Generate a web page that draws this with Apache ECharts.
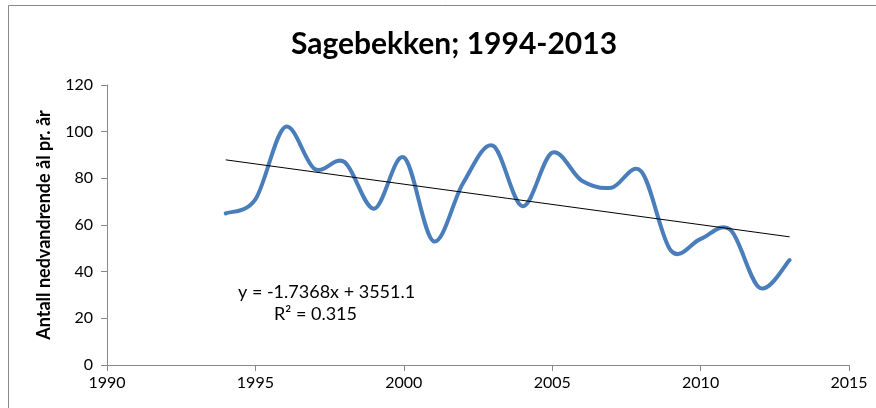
<!DOCTYPE html>
<html>
<head>
<meta charset="utf-8">
<script src="https://cdn.jsdelivr.net/npm/echarts@6/dist/echarts.min.js"></script>
<style>
  html, body { margin: 0; padding: 0; background: #fff; }
  #chart { width: 876px; height: 408px; }
</style>
</head>
<body>
<div id="chart"></div>
<script>
// yearly counts
const years = [1994, 1995, 1996, 1997, 1998, 1999, 2000, 2001, 2002, 2003,
  2004, 2005, 2006, 2007, 2008, 2009, 2010, 2011, 2012, 2013]
const counts = [65, 71, 102, 84, 87, 67, 89, 53, 78, 94,
  68, 91, 79, 76, 83, 49, 54, 58, 33, 45]

// linear trend as printed on the chart
const slope = -1.7368
const intercept = 3551.1
const trendYears = [1994, 2013]

const xTicks = [1990, 2015, 5]
const yTicks = [0, 120, 20]

const font = 'Lato, "Open Sans", sans-serif'

// spreadsheet-style smoothed line: bezier through the points, tangents from the neighbours
function smoothPath(params, api) {
  const pts = years.map((y, i) => api.coord([y, counts[i]]))
  const n = pts.length
  let d = 'M' + pts[0][0] + ' ' + pts[0][1]
  for (let i = 0; i < n - 1; i++) {
    const p0 = pts[Math.max(i - 1, 0)]
    const p1 = pts[i]
    const p2 = pts[i + 1]
    const p3 = pts[Math.min(i + 2, n - 1)]
    const c1x = p1[0] + (p2[0] - p0[0]) / 6
    const c1y = p1[1] + (p2[1] - p0[1]) / 6
    const c2x = p2[0] - (p3[0] - p1[0]) / 6
    const c2y = p2[1] - (p3[1] - p1[1]) / 6
    d += ' C' + c1x + ' ' + c1y + ' ' + c2x + ' ' + c2y + ' ' + p2[0] + ' ' + p2[1]
  }
  return {
    type: 'path',
    shape: { pathData: d },
    style: { fill: 'none', stroke: '#4a7ebb', lineWidth: 4, lineCap: 'round', lineJoin: 'round' }
  }
}

const chart = echarts.init(document.getElementById('chart'))

chart.setOption({
  animation: false,
  title: {
    text: 'Sagebekken; 1994-2013',
    left: 449,
    top: 24,
    textAlign: 'center',
    textStyle: {
      fontFamily: font,
      fontSize: 30,
      fontWeight: 'bold',
      color: '#000'
    }
  },
  grid: {
    left: 107,
    right: 27,
    top: 85,
    bottom: 43
  },
  xAxis: {
    type: 'value',
    min: xTicks[0],
    max: xTicks[1],
    interval: xTicks[2],
    splitLine: { show: false },
    axisLine: { lineStyle: { color: '#888' } },
    axisTick: { length: 6, lineStyle: { color: '#888' } },
    axisLabel: {
      fontFamily: font,
      fontSize: 16,
      color: '#000',
      margin: 10,
      formatter: v => String(v)
    }
  },
  yAxis: {
    type: 'value',
    min: yTicks[0],
    max: yTicks[1],
    interval: yTicks[2],
    name: 'Antall nedvandrende ål pr. år',
    nameLocation: 'middle',
    nameGap: 54,
    nameTextStyle: {
      fontFamily: font,
      fontSize: 18,
      fontWeight: 'bold',
      color: '#000'
    },
    splitLine: { show: false },
    axisLine: { show: true, lineStyle: { color: '#888' } },
    axisTick: { show: true, length: 6, lineStyle: { color: '#888' } },
    axisLabel: {
      fontFamily: font,
      fontSize: 16,
      color: '#000',
      margin: 14
    }
  },
  series: [{
    type: 'custom',
    data: [[years[0], counts[0]]],
    renderItem: smoothPath,
    silent: true,
    z: 2
  }, {
    type: 'line',
    data: trendYears.map(y => [y, slope * y + intercept]),
    showSymbol: false,
    lineStyle: { color: '#000', width: 1 },
    z: 3
  }],
  graphic: [{
    type: 'rect',
    shape: { x: 8.5, y: 5.5, width: 900, height: 500 },
    style: { fill: 'none', stroke: '#888', lineWidth: 1 },
    silent: true
  }, {
    type: 'text',
    left: 238,
    top: 283,
    style: {
      text: 'y = -1.7368x + 3551.1',
      fontFamily: font,
      fontSize: 18,
      fill: '#000'
    }
  }, {
    type: 'text',
    left: 274,
    top: 305,
    style: {
      text: 'R² = 0.315',
      fontFamily: font,
      fontSize: 18,
      fill: '#000'
    }
  }]
})
</script>
</body>
</html>
